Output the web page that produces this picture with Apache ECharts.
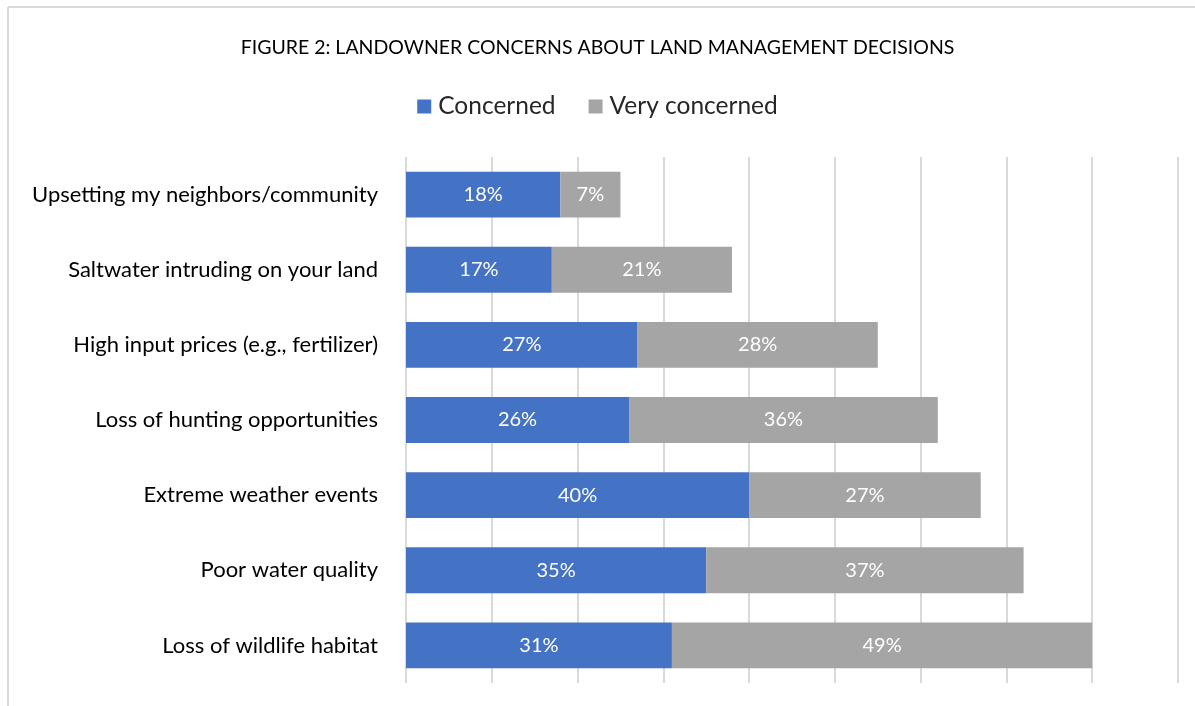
<!DOCTYPE html>
<html>
<head>
<meta charset="utf-8">
<script src="https://cdn.jsdelivr.net/npm/echarts@6/dist/echarts.min.js"></script>
<style>
  html, body { margin: 0; padding: 0; background: #fff; overflow: hidden; }
  #chart { width: 1195px; height: 706px; }
</style>
</head>
<body>
<div id="chart"></div>
<script>
  // categories top to bottom
  const categories = [
    'Upsetting my neighbors/community',
    'Saltwater intruding on your land',
    'High input prices (e.g., fertilizer)',
    'Loss of hunting opportunities',
    'Extreme weather events',
    'Poor water quality',
    'Loss of wildlife habitat'
  ];
  const concerned = [18, 17, 27, 26, 40, 35, 31];
  const veryConcerned = [7, 21, 28, 36, 27, 37, 49];

  const font = 'Lato, "Open Sans", sans-serif';

  const chart = echarts.init(document.getElementById('chart'));
  chart.setOption({
    backgroundColor: '#fff',
    animation: false,
    title: {
      text: 'FIGURE 2: LANDOWNER CONCERNS ABOUT LAND MANAGEMENT DECISIONS',
      left: 'center',
      top: 33,
      textStyle: { fontFamily: font, fontSize: 19.5, fontWeight: 'normal', color: '#000' }
    },
    legend: {
      top: 89,
      left: 'center',
      itemWidth: 14,
      itemHeight: 14,
      itemGap: 33,
      icon: 'rect',
      textStyle: { fontFamily: font, fontSize: 24.5, color: '#262626', padding: [0, 0, 0, 2] },
      data: ['Concerned', 'Very concerned']
    },
    grid: { left: 406, right: 17, top: 157, bottom: 23 },
    xAxis: {
      type: 'value',
      min: 0,
      max: 90,
      interval: 10,
      axisLabel: { show: false },
      axisLine: { show: false },
      axisTick: { show: false },
      splitLine: { lineStyle: { color: '#d9d9d9', width: 2 } }
    },
    yAxis: {
      type: 'category',
      inverse: true,
      data: categories,
      axisLine: { show: false },
      axisTick: { show: false },
      axisLabel: { fontFamily: font, fontSize: 22, color: '#000', margin: 28 }
    },
    series: [
      {
        name: 'Concerned',
        type: 'bar',
        stack: 'total',
        barCategoryGap: '39%',
        data: concerned,
        itemStyle: { color: '#4472c4' },
        label: { show: true, position: 'inside', formatter: '{c}%', color: '#fff', fontFamily: font, fontSize: 20 }
      },
      {
        name: 'Very concerned',
        type: 'bar',
        stack: 'total',
        data: veryConcerned,
        itemStyle: { color: '#a5a5a5' },
        label: { show: true, position: 'inside', formatter: '{c}%', color: '#fff', fontFamily: font, fontSize: 20 }
      }
    ],
    graphic: [
      { type: 'line', shape: { x1: 8, y1: 7, x2: 1195, y2: 7 }, style: { stroke: '#d9d9d9', lineWidth: 2 } },
      { type: 'line', shape: { x1: 8, y1: 7, x2: 8, y2: 706 }, style: { stroke: '#d9d9d9', lineWidth: 2 } }
    ]
  });
</script>
</body>
</html>
